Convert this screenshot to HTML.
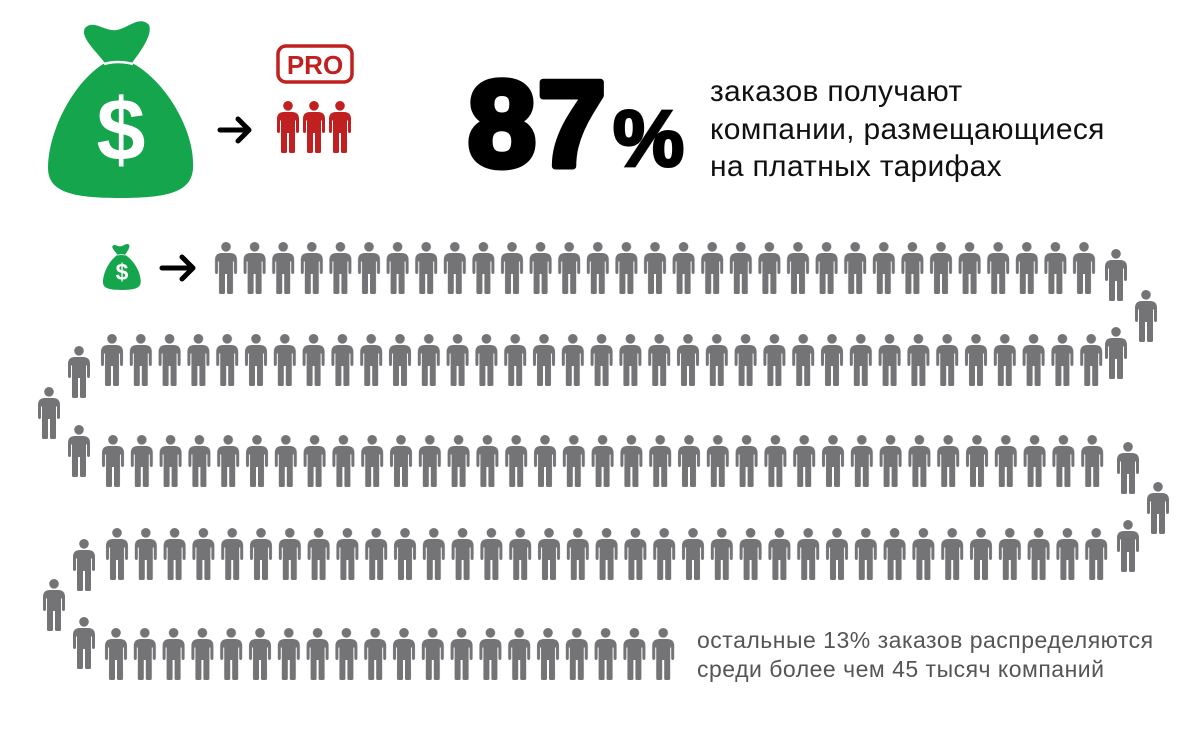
<!DOCTYPE html>
<html><head><meta charset="utf-8"><style>
html,body{margin:0;padding:0;background:#fff;}
svg{display:block;}
</style></head><body>
<svg width="1200" height="733" viewBox="0 0 1200 733" xmlns="http://www.w3.org/2000/svg">
<defs>
<g id="p">
<circle cx="0" cy="4.8" r="4.8"/>
<path d="M -11 30 L -11 18 Q -11 11 -4 11 L 4 11 Q 11 11 11 18 L 11 30 Q 11 32 9.5 32 Q 8 32 8 30 L 8 19.5 L 7 19.5 L 7 50.5 Q 7 52 5.5 52 L 2.5 52 Q 1 52 1 50.5 L 1 32 L -1 32 L -1 50.5 Q -1 52 -2.5 52 L -5.5 52 Q -7 52 -7 50.5 L -7 19.5 L -8 19.5 L -8 30 Q -8 32 -9.5 32 Q -11 32 -11 30 Z"/>
</g>
<pattern id="pa" patternUnits="userSpaceOnUse" width="28.6" height="53"><use href="#p" x="14.3" y="0" fill="#747477"/></pattern>
<pattern id="pb" patternUnits="userSpaceOnUse" width="28.8" height="53"><use href="#p" x="14.4" y="0" fill="#747477"/></pattern>
<g id="bag">
<path d="M 105 63 C 95 50, 78 35, 86 27 C 95 20, 105 32, 117 30 C 128 28, 140 15, 149 25 C 153 35, 140 52, 132 63 C 165 80, 195 130, 193 168 C 192 192, 168 198, 120 198 C 72 198, 48 192, 48 168 C 48 130, 75 80, 105 63 Z" fill="#15a54d"/>
<path d="M 104 64 Q 118 60 133 64" stroke="#fff" stroke-width="2.5" fill="none"/>
<text x="121" y="160" font-family="Liberation Sans, sans-serif" font-weight="bold" font-size="88" fill="#fff" text-anchor="middle">$</text>
</g>
</defs>

<use href="#bag"/>
<g transform="translate(90.5,238.5) scale(0.26)"><use href="#bag"/></g>

<g stroke="#000" stroke-width="5" fill="none" stroke-linecap="round" stroke-linejoin="round">
<path d="M 220 130 L 248 130 M 238 119 L 249 130 L 238 141"/>
<path d="M 162 268 L 193 268 M 182 257 L 193 268 L 182 279"/>
</g>

<rect x="278" y="46" width="74" height="36" rx="8" fill="none" stroke="#c0201f" stroke-width="3.5"/>
<text x="315" y="74" font-family="Liberation Sans, sans-serif" font-weight="bold" font-size="26" fill="#c0201f" text-anchor="middle">PRO</text>
<g fill="#c0201f">
<use href="#p" x="288" y="101"/><use href="#p" x="314" y="101"/><use href="#p" x="340" y="101"/>
</g>

<text x="468" y="166" font-family="Liberation Sans, sans-serif" font-weight="900" font-size="122" fill="#000" stroke="#000" stroke-width="7" stroke-linejoin="round" letter-spacing="2">87</text>
<text x="613" y="166" font-family="Liberation Sans, sans-serif" font-weight="bold" font-size="80" fill="#000" stroke="#000" stroke-width="3">%</text>

<g font-family="Liberation Sans, sans-serif" font-size="30" fill="#111" letter-spacing="0.3">
<text x="710" y="101">заказов получают</text>
<text x="710" y="139">компании, размещающиеся</text>
<text x="710" y="176">на платных тарифах</text>
</g>

<g font-family="Liberation Sans, sans-serif" font-size="23" fill="#555" letter-spacing="0.5">
<text x="697" y="648">остальные 13% заказов распределяются</text>
<text x="697" y="677">среди более чем 45 тысяч компаний</text>
</g>

<g transform="translate(211.7,242)"><rect width="886.6" height="53" fill="url(#pa)"/></g>
<g transform="translate(97.6,334)"><rect width="1008" height="53" fill="url(#pb)"/></g>
<g transform="translate(98.6,435)"><rect width="1008" height="53" fill="url(#pb)"/></g>
<g transform="translate(102.6,528)"><rect width="1008" height="53" fill="url(#pb)"/></g>
<g transform="translate(101.6,628)"><rect width="576" height="53" fill="url(#pb)"/></g>

<g fill="#747477">
<use href="#p" x="1116" y="249"/><use href="#p" x="1146" y="290"/><use href="#p" x="1116" y="327"/>
<use href="#p" x="79" y="346"/><use href="#p" x="49" y="387"/><use href="#p" x="79" y="425"/>
<use href="#p" x="1128" y="442"/><use href="#p" x="1158" y="482"/><use href="#p" x="1128" y="520"/>
<use href="#p" x="84" y="539"/><use href="#p" x="54" y="579"/><use href="#p" x="84" y="617"/>
</g>
</svg>
</body></html>
